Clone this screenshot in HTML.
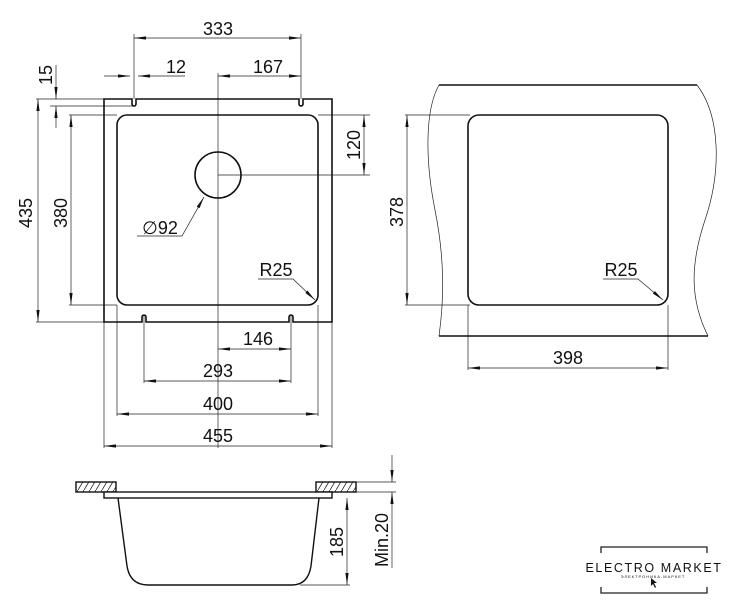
<!DOCTYPE html>
<html><head><meta charset="utf-8"><style>
html,body{margin:0;padding:0;background:#fff;}
svg{display:block;}
text{font-family:"Liberation Sans",sans-serif;fill:#111;}
</style></head><body>
<svg width="740" height="606" viewBox="0 0 740 606" xmlns="http://www.w3.org/2000/svg">
<defs>
<marker id="a" viewBox="0 0 12 4" refX="12" refY="2" markerWidth="12" markerHeight="4" markerUnits="userSpaceOnUse" orient="auto-start-reverse"><path d="M0,0.4 L12,2 L0,3.6z" fill="#111"/></marker>
<pattern id="h" patternUnits="userSpaceOnUse" width="6" height="10"><path d="M0,10 L6,0" stroke="#222" stroke-width="0.8"/></pattern>
</defs>
<g fill="none" stroke="#222" stroke-width="0.7">
<line x1="134" y1="34" x2="134" y2="99"/>
<line x1="301" y1="34" x2="301" y2="99"/>
<line x1="218" y1="73" x2="218" y2="448"/>
<line x1="36" y1="99" x2="104" y2="99"/>
<line x1="50" y1="106" x2="134" y2="106"/>
<line x1="36" y1="322" x2="104" y2="322"/>
<line x1="69" y1="115" x2="117" y2="115"/>
<line x1="69" y1="305" x2="117" y2="305"/>
<line x1="318" y1="115" x2="370" y2="115"/>
<line x1="218" y1="175" x2="370" y2="175"/>
<line x1="104" y1="322" x2="104" y2="448"/>
<line x1="332" y1="322" x2="332" y2="448"/>
<line x1="117" y1="305" x2="117" y2="416"/>
<line x1="318" y1="305" x2="318" y2="416"/>
<line x1="144" y1="315" x2="144" y2="383"/>
<line x1="291" y1="315" x2="291" y2="383"/>
<line x1="134" y1="38" x2="301" y2="38" marker-start="url(#a)" marker-end="url(#a)"/>
<line x1="104" y1="76" x2="130" y2="76" marker-end="url(#a)"/>
<line x1="185" y1="76" x2="138" y2="76" marker-end="url(#a)"/>
<line x1="218" y1="76" x2="301" y2="76" marker-start="url(#a)" marker-end="url(#a)"/>
<line x1="56" y1="65" x2="56" y2="99" marker-end="url(#a)"/>
<line x1="56" y1="128" x2="56" y2="106" marker-end="url(#a)"/>
<line x1="38" y1="99" x2="38" y2="322" marker-start="url(#a)" marker-end="url(#a)"/>
<line x1="71" y1="115" x2="71" y2="305" marker-start="url(#a)" marker-end="url(#a)"/>
<line x1="364" y1="115" x2="364" y2="175" marker-start="url(#a)" marker-end="url(#a)"/>
<line x1="218" y1="349" x2="291" y2="349" marker-start="url(#a)" marker-end="url(#a)"/>
<line x1="144" y1="381" x2="291" y2="381" marker-start="url(#a)" marker-end="url(#a)"/>
<line x1="117" y1="414" x2="318" y2="414" marker-start="url(#a)" marker-end="url(#a)"/>
<line x1="104" y1="446" x2="332" y2="446" marker-start="url(#a)" marker-end="url(#a)"/>
<polyline points="137,236 182,236 204,197" marker-end="url(#a)"/>
<polyline points="258,279 293,279 315,300" marker-end="url(#a)"/>
</g>
<g fill="none" stroke="#111" stroke-width="1.6">
<path d="M104,99 H132 V104 A2,2 0 0 0 136,104 V99 H299 V104 A2,2 0 0 0 303,104 V99 H332 V322 H293 V317 A2,2 0 0 0 289,317 V322 H146 V317 A2,2 0 0 0 142,317 V322 H104 Z"/>
<rect x="117" y="115" width="201" height="190" rx="10"/>
<circle cx="218" cy="175" r="23"/>
</g>
<g font-size="18" text-anchor="middle">
<text x="218" y="35">333</text>
<text x="176" y="73">12</text>
<text x="268" y="73">167</text>
<text x="258" y="345">146</text>
<text x="218" y="377">293</text>
<text x="218" y="410">400</text>
<text x="218" y="442">455</text>
<text x="160" y="234">∅92</text>
<text x="276" y="276">R25</text>
<text transform="translate(52,75) rotate(-90)">15</text>
<text transform="translate(32,213) rotate(-90)">435</text>
<text transform="translate(67,213) rotate(-90)">380</text>
<text transform="translate(360,145) rotate(-90)">120</text>
<text transform="translate(403,212) rotate(-90)">378</text>
<text x="568" y="364">398</text>
<text x="621" y="276">R25</text>
<text transform="translate(343,542) rotate(-90)">185</text>
<text transform="translate(388,540) rotate(-90)">Min.20</text>
</g>
<g fill="none" stroke="#222" stroke-width="0.7">
<line x1="405" y1="115" x2="470" y2="115"/>
<line x1="405" y1="305" x2="470" y2="305"/>
<line x1="468" y1="305" x2="468" y2="370"/>
<line x1="668" y1="305" x2="668" y2="370"/>
<line x1="407" y1="115" x2="407" y2="305" marker-start="url(#a)" marker-end="url(#a)"/>
<line x1="468" y1="368" x2="668" y2="368" marker-start="url(#a)" marker-end="url(#a)"/>
<polyline points="603,279 638,279 663,300" marker-end="url(#a)"/>
<path d="M439,85 C425,110 425,160 435,210 C445,260 444,300 439,336"/>
<path d="M697,85 C720,115 722,170 705,220 C690,265 690,300 708,336"/>
</g>
<g fill="none" stroke="#111" stroke-width="1.4">
<line x1="439" y1="85" x2="697" y2="85"/>
<line x1="439" y1="336" x2="708" y2="336"/>
<rect x="468" y="115" width="200" height="190" rx="11" stroke-width="1.6"/>
</g>
<g fill="none" stroke="#222" stroke-width="0.7">
<line x1="356" y1="482" x2="396" y2="482"/>
<line x1="356" y1="492" x2="396" y2="492"/>
<line x1="300" y1="585" x2="350" y2="585"/>
<line x1="392" y1="455" x2="392" y2="482" marker-end="url(#a)"/>
<line x1="392" y1="568" x2="392" y2="492" marker-end="url(#a)"/>
<line x1="347" y1="498" x2="347" y2="585" marker-start="url(#a)" marker-end="url(#a)"/>
</g>
<g stroke="#111" stroke-width="1.4">
<rect x="76" y="482" width="40" height="10" fill="url(#h)"/>
<rect x="316" y="482" width="40" height="10" fill="url(#h)"/>
<rect x="104" y="492" width="228" height="6" fill="#fff"/>
<path d="M118,498 L127,566 Q130,585 148,585 L292,585 Q308,585 311,566 L319,498" fill="none"/>
</g>
<g fill="none" stroke="#222" stroke-width="1.3">
<polyline points="601,553 601,547 707,547 707,553"/>
<polyline points="601,587 601,593 707,593 707,587"/>
</g>
<text x="654" y="572" font-size="12.5" text-anchor="middle" letter-spacing="1.6">ELECTRO MARKET</text>
<text x="653" y="578" font-size="4" text-anchor="middle" letter-spacing="1" fill="#555">ЭЛЕКТРОНИКА-МАРКЕТ</text>
<path d="M651,578 L651,586 L653,584 L655,588 L656,587 L654,583 L657,583 Z" fill="#111"/>
</svg>
</body></html>
